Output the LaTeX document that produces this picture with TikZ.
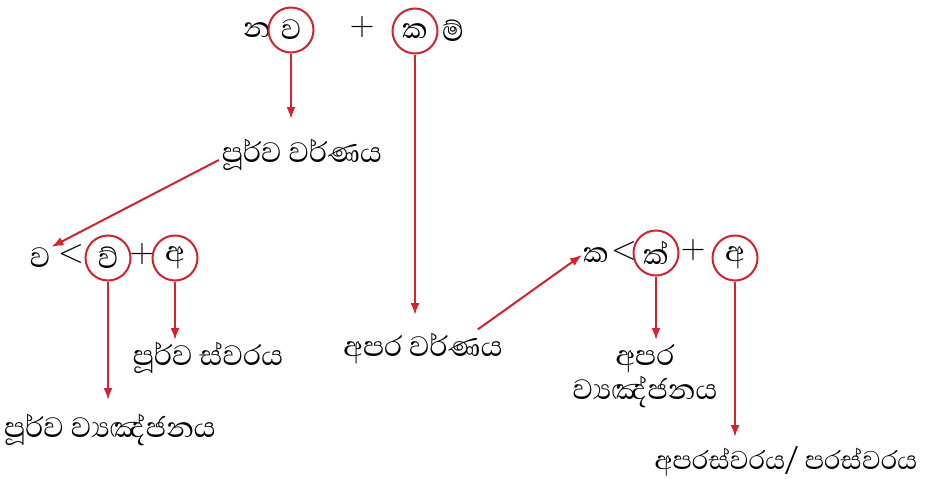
\documentclass[tikz,border=0pt]{standalone}
\usepackage{fontspec}
\newfontfamily\sinhala[Script=Sinhala]{Abhaya Libre}
\usetikzlibrary{arrows.meta}
\definecolor{markred}{RGB}{208,36,46}
\tikzset{
	word/.style  = {font=\sinhala\fontsize{36}{40}\selectfont, inner sep=1pt},
	sign/.style  = {font=\rmfamily\fontsize{34}{38}\selectfont, inner sep=1pt},
	ring/.style  = {word, draw=markred, circle, line width=2pt, minimum size=45pt, inner sep=0pt},
	link/.style  = {draw=markred, line width=2pt, ->},
}

\begin{document}
\begin{tikzpicture}[x=1pt, y=-1pt, >={Latex[length=12pt,width=9pt]}]
	\useasboundingbox (0,0) rectangle (927,479);

	% Top word pair
	\node[word] (na)   at (257,30) {න};
	\node[ring] (va)   at (291,30) {ව};
	\node[sign] (plusa) at (362,27) {+};
	\node[ring] (ka)   at (415,31) {ක};
	\node[word] (mi)   at (453,31) {ම්};

	% Middle labels
	\node[word] (purvavarna) at (302,155) {පූර්ව වර්ණය};
	\node[word] (aparavarna) at (423,348) {අපර වර්ණය};

	% Left split
	\node[word] (lva)   at (40,258)  {ව};
	\node[sign] (ltl)   at (71,254)  {<};
	\node[ring] (lvh)   at (108,258) {ව්};
	\node[sign] (plusb) at (142,254) {+};
	\node[ring] (la)    at (175,258) {අ};
	\node[word] (purvasvara) at (208,358) {පූර්ව ස්වරය};
	\node[word] (purvavyanj) at (110,430) {පූර්ව ව්‍යඤ්ජනය};

	% Right split
	\node[word] (rka)   at (596,255) {ක};
	\node[sign] (ltr)   at (624,251) {<};
	\node[ring] (rkh)   at (656,253) {ක්};
	\node[sign] (plusc) at (693,250) {+};
	\node[ring] (ra)    at (735,258) {අ};
	\node[word, align=center] (aparavyanj) at (645,376) {අපර\\[-6pt]ව්‍යඤ්ජනය};
	\node[word, font=\sinhala\fontsize{33}{36}\selectfont] (parasvara) at (786,461) {අපරස්වරය/ පරස්වරය};

	% Connect everything together
	\draw[link] (va.south) -- (va.south |- 0,119);
	\draw[link] (ka.south) -- (ka.south |- 0,315);
	\draw[link] (purvavarna.west) ++(-2,5) -- (lva.north east);
	\draw[link] (lvh.south) -- (lvh.south |- 0,400);
	\draw[link] (la.south) -- (la.south |- 0,340);
	\draw[link] (aparavarna.north east) ++(-26,-2) -- (rka.west);
	\draw[link] (rkh.south) -- (rkh.south |- 0,340);
	\draw[link] (ra.south) -- (ra.south |- 0,437);
\end{tikzpicture}
\end{document}
